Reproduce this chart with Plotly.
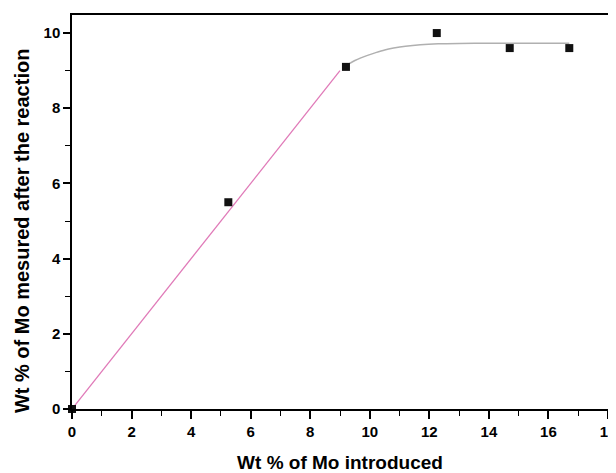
import plotly.graph_objects as go

# measured data
x_intro = [0.0, 5.25, 9.2, 12.25, 14.7, 16.7]
y_meas = [0.0, 5.5, 9.1, 10.0, 9.6, 9.6]

# linear part (pink)
x_lin = [0.0, 9.0]
y_lin = [0.0, 9.0]

# saturation curve (gray)
x_sat = [9.3, 9.5, 9.7, 9.9, 10.2, 10.5, 10.8, 11.2, 11.7, 12.3, 13.0, 14.0, 15.0, 16.0, 16.7]
y_sat = [9.18, 9.27, 9.34, 9.40, 9.48, 9.55, 9.60, 9.65, 9.69, 9.715, 9.725, 9.73, 9.73, 9.73, 9.73]

x_ticks = [0, 2, 4, 6, 8, 10, 12, 14, 16, 18]
y_ticks = [0, 2, 4, 6, 8, 10]

fig = go.Figure()
fig.add_trace(go.Scatter(x=x_lin, y=y_lin, mode="lines",
                         line=dict(color="#e07ab8", width=1.3), showlegend=False))
fig.add_trace(go.Scatter(x=x_sat, y=y_sat, mode="lines", line_shape="spline",
                         line=dict(color="#b0b0b0", width=1.5, smoothing=0.8), showlegend=False))
fig.add_trace(go.Scatter(x=x_intro, y=y_meas, mode="markers",
                         marker=dict(symbol="square", size=8, color="#111111"),
                         cliponaxis=False, showlegend=False))

font_b = "Liberation Sans"
fig.update_layout(
    width=616, height=465,
    margin=dict(l=64, r=16, t=7, b=64),
    paper_bgcolor="white", plot_bgcolor="white",
    font=dict(family=font_b, color="black"),
    xaxis=dict(
        range=[0, 18], tickvals=x_ticks, ticks="outside", ticklen=8, tickwidth=1.5,
        tickcolor="black", linecolor="black", linewidth=1.5, mirror=True,
        showgrid=False, zeroline=False, automargin=False, ticklabeloverflow="allow",
        tickfont=dict(size=15, family=font_b, weight="bold"),
        minor=dict(dtick=1, ticks="outside", ticklen=5, tickcolor="black", tickwidth=1.2),
        title=dict(text="<b>Wt % of Mo introduced</b>", font=dict(size=19, family=font_b),
                   standoff=19),
    ),
    yaxis=dict(
        range=[0, 10.48], tickvals=y_ticks, ticks="outside", ticklen=7, tickwidth=1.5,
        tickcolor="black", linecolor="black", linewidth=1.5, mirror=True,
        showgrid=False, zeroline=False, automargin=False,
        tickfont=dict(size=15, family=font_b, weight="bold"),
        minor=dict(dtick=1, ticks="outside", ticklen=5, tickcolor="black", tickwidth=1.2),
    ),
    annotations=[dict(
        text="<b>Wt % of Mo mesured after the reaction</b>",
        xref="paper", yref="paper", x=-0.0933, y=0.454,
        xanchor="center", yanchor="middle", textangle=-90, showarrow=False,
        font=dict(size=20, family=font_b, color="black"),
    )],
)

fig.write_html("out.html")
